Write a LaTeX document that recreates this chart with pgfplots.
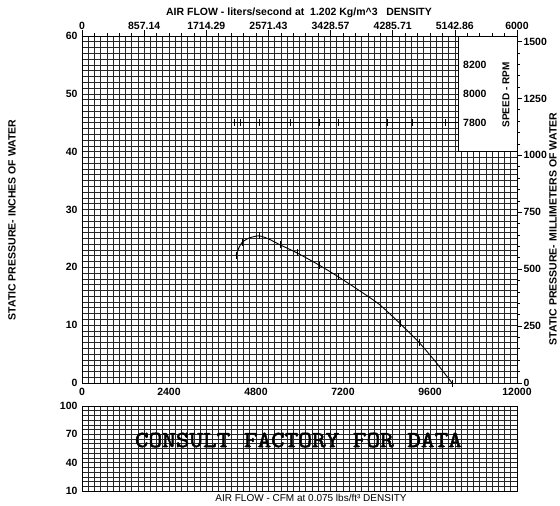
\documentclass[border=0pt]{standalone}
\usepackage{pgfplots}
\pgfplotsset{compat=1.18}
\usepackage{fontspec}
\setmainfont{Liberation Sans}
\newfontfamily\monob{Latin Modern Mono}[FakeBold=2.2, FakeStretch=1.15]
\begin{document}
\begin{tikzpicture}
\path[use as bounding box] (0pt,0pt) rectangle (560pt,-506pt);
\pgfplotsset{
  every axis/.append style={
    scale only axis, width=435pt, scaled ticks=false,
    /pgf/number format/assume math mode=true,
    ticklabel style={font=\bfseries\fontsize{10.5}{12}\selectfont},
    axis line style={black, line width=0.8pt},
  }
}
% ---------- main axis ----------
\begin{axis}[at={(82pt,-383pt)}, anchor=south west, height=347pt,
  xmin=0, xmax=12000, ymin=0, ymax=60, clip=false,
  xtick={0,2400,4800,7200,9600,12000},
  xticklabels={0,2400,4800,7200,9600,12000},
  ytick={0,10,20,30,40,50,60},
  yticklabels={0,10,20,30,40,50,60},
  minor x tick num=13, minor y tick num=9,
  grid=both,
  major grid style={black!85, line width=0.65pt},
  minor grid style={black!85, line width=0.65pt},
  major tick length=0pt, minor tick length=0pt,
  xticklabel style={yshift=-2pt},
  yticklabel style={xshift=-1pt},
]
\fill[white] (axis cs:10372,40) rectangle (axis cs:12000,60);
\draw[black, line width=0.6pt] (axis cs:10372,60) |- (axis cs:12000,40);
\node[anchor=west, inner sep=0pt, font=\bfseries\fontsize{10.5}{12}\selectfont] at (axis cs:10510,55) {8200};
\node[anchor=west, inner sep=0pt, font=\bfseries\fontsize{10.5}{12}\selectfont] at (axis cs:10510,50) {8000};
\node[anchor=west, inner sep=0pt, font=\bfseries\fontsize{10.5}{12}\selectfont] at (axis cs:10510,45) {7800};
\node[rotate=90, inner sep=0pt, font=\bfseries\fontsize{10}{12}\selectfont] at (axis cs:11697,49.8) {SPEED - RPM};
% speed line 7800
\addplot[black, line width=0.8pt] coordinates {(4166,45) (10372,45)};
\addplot[only marks, mark=|, mark size=3.5pt, mark options={line width=0.7pt}] coordinates {
  (4200,45) (4380,45) (4883,45) (5760,45) (6538,45) (7062,45) (8420,45) (9120,45) (10010,45)};
% fan curve
\addplot[black, line width=0.9pt, smooth, tension=0.4] coordinates {
  (4250,22.1) (4330,23.4) (4414,24.3) (4600,25.05) (4883,25.45) (5150,24.9)
  (5462,23.9) (5931,22.5) (6538,20.4) (7062,18.4) (7600,16.2) (8200,13.6)
  (8770,10.3) (9300,7.0) (9750,3.7) (10207,0)};
\addplot[only marks, mark=|, mark size=3.5pt, mark options={line width=0.7pt}] coordinates {
  (4250,22.1) (4414,24.3) (4883,25.45) (5462,23.9) (5931,22.5) (6538,20.4)
  (7062,18.4) (8770,10.3) (9300,7.0) (10207,0)};
\end{axis}
% ---------- top axis ----------
\begin{axis}[at={(82pt,-383pt)}, anchor=south west, height=347pt,
  xmin=0, xmax=6000, ymin=0, ymax=60,
  axis x line*=top, axis y line=none,
  xtick={0,857.142857,1714.285714,2571.428571,3428.571429,4285.714286,5142.857143,6000},
  xticklabels={0,857.14,1714.29,2571.43,3428.57,4285.71,5142.86,6000},
  minor x tick num=4, tick align=outside,
  major tick length=6pt, minor tick length=3pt,
  tick style={black, line width=0.7pt},
  xticklabel style={yshift=-3pt},
]
\end{axis}
% ---------- right axis ----------
\begin{axis}[at={(82pt,-383pt)}, anchor=south west, height=347pt,
  xmin=0, xmax=12000, ymin=0, ymax=1524,
  axis y line*=right, axis x line=none,
  ytick={0,250,500,750,1000,1250,1500},
  yticklabels={0,250,500,750,1000,1250,1500},
  minor y tick num=4, tick align=outside,
  major tick length=5pt, minor tick length=3pt,
  tick style={black, line width=0.7pt},
  yticklabel style={xshift=-2pt},
]
\end{axis}
% ---------- bottom panel ----------
\begin{axis}[at={(82pt,-491pt)}, anchor=south west, height=85pt,
  xmin=0, xmax=12000, ymin=10, ymax=100,
  xtick={0,2400,4800,7200,9600,12000}, xticklabels={},
  ytick={10,40,70,100}, yticklabels={10,40,70,100},
  minor x tick num=13, minor y tick num=5,
  grid=both,
  major grid style={black!85, line width=0.65pt},
  minor grid style={black!85, line width=0.65pt},
  major tick length=0pt, minor tick length=0pt,
  yticklabel style={xshift=-1pt},
]
\node[font=\monob\fontsize{23}{26}\selectfont, inner sep=0pt] at (axis cs:5970,64) {CONSULT FACTORY FOR DATA};
\end{axis}
% ---------- labels ----------
\node[font=\bfseries\fontsize{10.5}{12}\selectfont] at (299pt,-13pt) {AIR FLOW - liters/second at \ 1.202 Kg/m\textasciicircum 3 \ \ DENSITY};
\node[rotate=90, font=\bfseries\fontsize{10.5}{12}\selectfont] at (12pt,-220pt) {STATIC PRESSURE- INCHES OF WATER};
\node[rotate=90, font=\bfseries\fontsize{10.5}{12}\selectfont] at (553pt,-229pt) {STATIC PRESSURE- MILLIMETERS OF WATER};
\node[font=\fontsize{10}{12}\selectfont, fill=white, inner sep=1pt] at (311pt,-498pt) {AIR FLOW - CFM at 0.075 lbs/ft³ DENSITY};
\end{tikzpicture}
\end{document}
